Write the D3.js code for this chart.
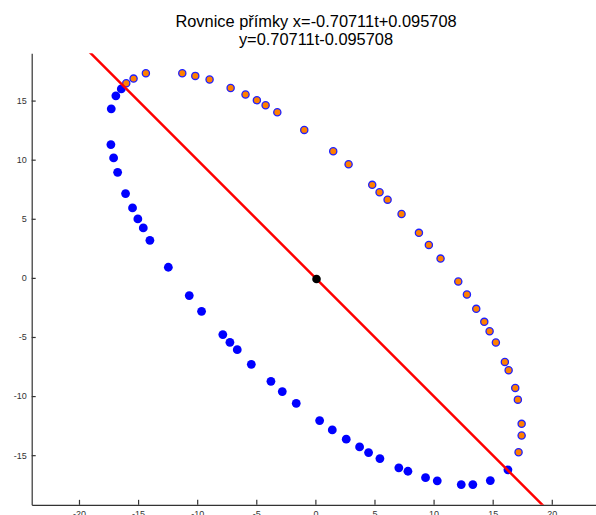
<!DOCTYPE html>
<html>
<head>
<meta charset="utf-8">
<script src="https://cdn.jsdelivr.net/npm/d3@7"></script>
<style>
  body { margin: 0; background: #fff; }
  svg { display: block; }
</style>
</head>
<body>
<div id="chart"></div>
<script>
// Title lines
const titleLines = ["Rovnice přímky x=-0.70711t+0.095708", "y=0.70711t-0.095708"];

// Blue points (lower-left arc)
const blueX = [-16.42, -16.88, -17.27, -17.30, -17.07, -16.73, -16.06, -15.47, -15.02, -14.56,
    -14.00, -12.44, -10.67, -9.63, -7.83, -7.23, -6.61, -5.42, -3.76, -2.80,
    -1.62, 0.36, 1.43, 2.61, 3.74, 4.50, 5.46, 7.06, 7.83, 9.32,
    10.31, 12.34, 13.32, 14.80, 16.29];
const blueY = [15.99, 15.40, 14.30, 11.28, 10.15, 8.93, 7.13, 5.92, 4.99, 4.23,
    3.18, 0.90, -1.50, -2.83, -4.80, -5.45, -6.07, -7.31, -8.75, -9.62,
    -10.61, -12.07, -12.86, -13.65, -14.30, -14.78, -15.29, -16.07, -16.36, -16.90,
    -17.17, -17.49, -17.49, -17.15, -16.24];

// Orange points (upper-right arc)
const orangeX = [-16.00, -15.38, -14.34, -11.26, -10.16, -8.95, -7.17, -5.91, -4.95, -4.21,
    -3.22, -0.94, 1.51, 2.81, 4.81, 5.43, 6.11, 7.29, 8.76, 9.60,
    10.59, 12.09, 12.82, 13.61, 14.29, 14.74, 15.27, 16.03, 16.35, 16.91,
    17.13, 17.45, 17.45, 17.19];
const orangeY = [16.46, 16.86, 17.31, 17.31, 17.09, 16.78, 16.07, 15.51, 15.03, 14.60,
    14.01, 12.52, 10.71, 9.61, 7.87, 7.24, 6.62, 5.41, 3.81, 2.79,
    1.63, -0.31, -1.41, -2.62, -3.72, -4.52, -5.47, -7.11, -7.82, -9.31,
    -10.30, -12.35, -13.34, -14.75];

// Line x = -0.70711t + 0.095708, y = 0.70711t - 0.095708
const lineDir = [-0.70711, 0.70711];
const lineOffset = [0.095708, -0.095708];
const lineT = [-30, 30];
const centerPoint = [0.095708, -0.095708];

// Axis ticks
const xTicks = [-20, -15, -10, -5, 0, 5, 10, 15, 20];
const yTicks = [-15, -10, -5, 0, 5, 10, 15];
const xDomain = [-24, 24];
const yDomain = [-19.2, 19];

const drawChart = (containerId) => {
    const width = 596;
    const height = 515;
    const margin = { top: 53.3, left: 31.7 };
    const unit = 11.82; // px per data unit, equal aspect
    const innerWidth = (xDomain[1] - xDomain[0]) * unit;
    const innerHeight = (yDomain[1] - yDomain[0]) * unit;

    const xScale = d3.scaleLinear().domain(xDomain).range([0, innerWidth]);
    const yScale = d3.scaleLinear().domain(yDomain).range([innerHeight, 0]);

    const svg = d3.select(containerId)
        .append("svg")
        .attr("width", width)
        .attr("height", height);

    // Title
    svg.append("text")
        .attr("x", 316)
        .attr("y", 26.7)
        .attr("text-anchor", "middle")
        .style("font-family", "Liberation Sans, Arial, sans-serif")
        .style("font-size", "16.4px")
        .attr("fill", "#000")
        .selectAll("tspan")
        .data(titleLines)
        .enter()
        .append("tspan")
        .attr("x", 316)
        .attr("dy", (d, i) => i === 0 ? 0 : 18.5)
        .text(d => d);

    const inner = svg.append("g")
        .attr("transform", `translate(${margin.left},${margin.top})`);

    svg.append("defs").append("clipPath")
        .attr("id", "plot-clip")
        .append("rect")
        .attr("width", innerWidth)
        .attr("height", innerHeight);

    // Axes (plain hyphen minus like the original)
    const bottomAxis = d3.axisBottom(xScale)
        .tickValues(xTicks)
        .tickFormat(d => String(d))
        .tickSizeInner(-5)
        .tickSizeOuter(0)
        .tickPadding(6);
    const leftAxis = d3.axisLeft(yScale)
        .tickValues(yTicks)
        .tickFormat(d => String(d))
        .tickSizeInner(-4)
        .tickSizeOuter(0)
        .tickPadding(5);

    const gx = inner.append("g")
        .attr("transform", `translate(0,${innerHeight})`)
        .call(bottomAxis);
    const gy = inner.append("g").call(leftAxis);

    [gx, gy].forEach(g => {
        g.selectAll("path, line")
            .attr("stroke", "#333")
            .attr("stroke-width", 1.2);
        g.selectAll("text")
            .attr("fill", "#333")
            .style("font-family", "Liberation Sans, Arial, sans-serif")
            .style("font-size", "9px");
    });

    const plot = inner.append("g").attr("clip-path", "url(#plot-clip)");

    // Blue points
    plot.selectAll("circle.blue")
        .data(blueX.map((x, i) => [x, blueY[i]]))
        .enter()
        .append("circle")
        .attr("class", "blue")
        .attr("cx", d => xScale(d[0]))
        .attr("cy", d => yScale(d[1]))
        .attr("r", 4.4)
        .attr("fill", "#0000ff");

    // Orange points with blue edge
    plot.selectAll("circle.orange")
        .data(orangeX.map((x, i) => [x, orangeY[i]]))
        .enter()
        .append("circle")
        .attr("class", "orange")
        .attr("cx", d => xScale(d[0]))
        .attr("cy", d => yScale(d[1]))
        .attr("r", 3.6)
        .attr("fill", "#ff8000")
        .attr("stroke", "#2020ff")
        .attr("stroke-width", 1.3);

    // Red line
    const linePts = lineT.map(t => [lineDir[0] * t + lineOffset[0], lineDir[1] * t + lineOffset[1]]);
    plot.append("path")
        .datum(linePts)
        .attr("d", d3.line().x(d => xScale(d[0])).y(d => yScale(d[1])))
        .attr("stroke", "#ff0000")
        .attr("stroke-width", 2.5)
        .attr("fill", "none");

    // Center point
    plot.append("circle")
        .attr("cx", xScale(centerPoint[0]))
        .attr("cy", yScale(centerPoint[1]))
        .attr("r", 4.3)
        .attr("fill", "#000");
};

drawChart("#chart");
</script>
</body>
</html>
